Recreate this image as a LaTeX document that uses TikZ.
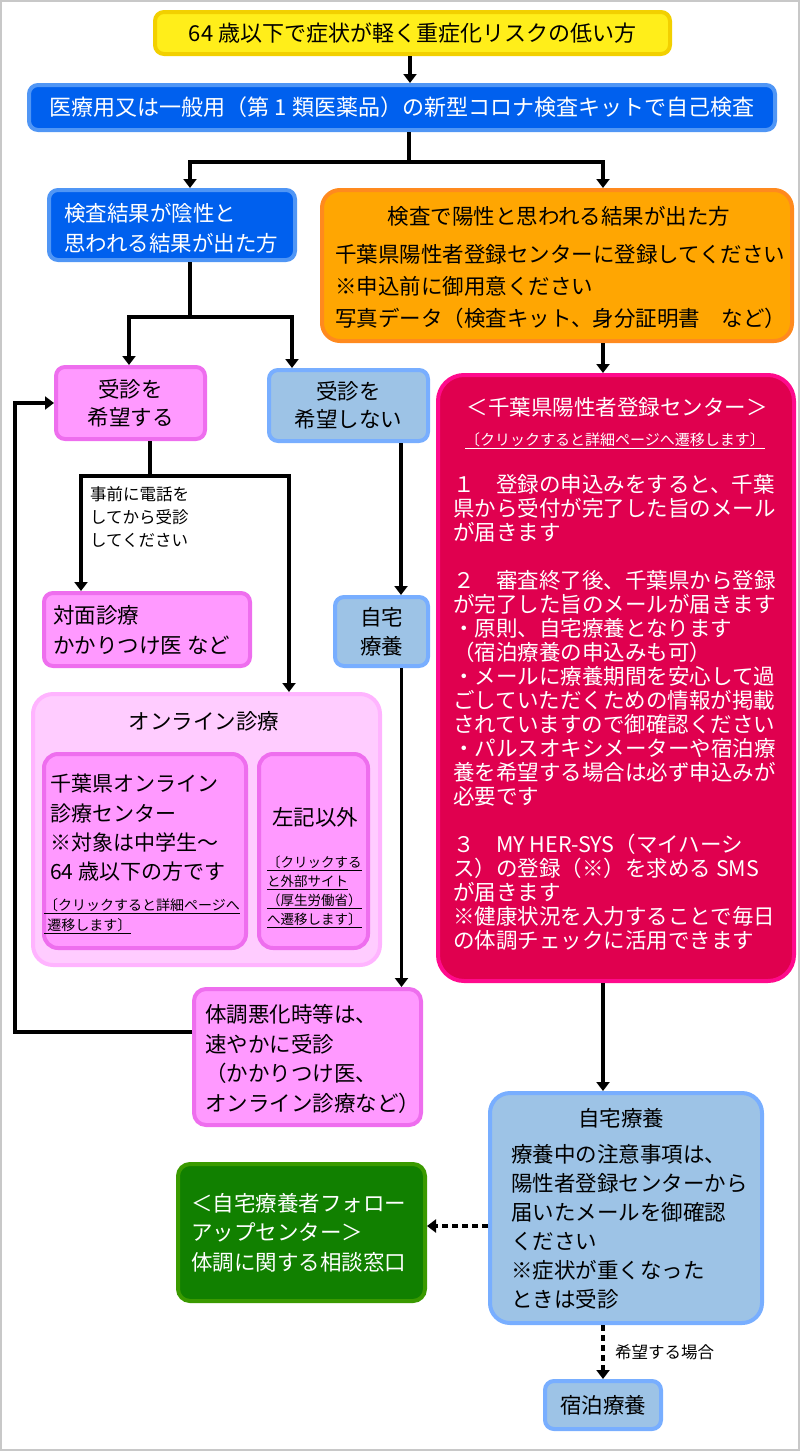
\documentclass[tikz,border=0pt]{standalone}
\usepackage{fontspec}
\setmainfont{Noto Sans CJK JP}
\usetikzlibrary{arrows.meta}
\definecolor{yelF}{HTML}{FFEE1A}
\definecolor{yelB}{HTML}{F2D000}
\definecolor{bluF}{HTML}{0060EE}
\definecolor{bluB}{HTML}{5096F5}
\definecolor{orgF}{HTML}{FFA602}
\definecolor{orgB}{HTML}{FF8A1E}
\definecolor{pnkF}{HTML}{FF99FF}
\definecolor{pnkB}{HTML}{EE6EEE}
\definecolor{lbF}{HTML}{9DC3E6}
\definecolor{lbB}{HTML}{78AEFF}
\definecolor{crmF}{HTML}{E0004F}
\definecolor{crmB}{HTML}{FF0A8C}
\definecolor{olF}{HTML}{FFCCFF}
\definecolor{olB}{HTML}{FFB4FF}
\definecolor{grnF}{HTML}{118000}
\definecolor{grnB}{HTML}{3A9A00}
\definecolor{frameC}{HTML}{C8C8C8}
\tikzset{
  box/.style={line width=4pt, rounded corners=9pt, inner sep=0pt},
  txt/.style={font=\fontsize{21.5}{#1}\selectfont, inner sep=0pt},
  txt/.default=30,
  lnk/.style={font=\fontsize{14}{#1}\selectfont, inner sep=0pt},
  lnk/.default=20,
  lbl/.style={font=\fontsize{16.5}{23}\selectfont, inner sep=0pt},
  plain/.style={line width=3.5pt},
  conn/.style={line width=3.5pt, -{Triangle[length=9pt,width=13pt]}},
  dconn/.style={line width=3.5pt, dash pattern=on 6pt off 4pt, -{Triangle[length=9pt,width=13pt]}},
}
\begin{document}
\begin{tikzpicture}[x=1pt,y=-1pt]
\useasboundingbox (0,0) rectangle (800,1451);
\draw[frameC, line width=2pt] (1,1) rectangle (799,1450);

% boxes
\node[box, fill=yelF, draw=yelB, minimum width=515pt, minimum height=42pt, txt, font=\fontsize{22}{30}\selectfont] (yel) at (412.5,33) {64 歳以下で症状が軽く重症化リスクの低い方};
\node[box, fill=bluF, draw=bluB, minimum width=746pt, minimum height=45pt, txt, font=\fontsize{22}{30}\selectfont, text=white] (kit) at (402,107.5) {医療用又は一般用（第 1 類医薬品）の新型コロナ検査キットで自己検査};

\node[box, fill=bluF, draw=bluB, minimum width=246pt, minimum height=70pt] (neg) at (172,225) {};
\node[txt=30, text=white, align=left, anchor=north west] (negT) at (64,203) {検査結果が陰性と\\思われる結果が出た方};

\node[box, fill=orgF, draw=orgB, minimum width=470pt, minimum height=151pt, rounded corners=18pt] (pos) at (557,265.5) {};
\node[txt] (posH) at (559,216) {検査で陽性と思われる結果が出た方};
\node[txt=32, align=left, anchor=north west] (posT) at (335,244) {千葉県陽性者登録センターに登録してください\\※申込前に御用意ください\\写真データ（検査キット、身分証明書　など）};

\node[box, fill=pnkF, draw=pnkB, minimum width=149pt, minimum height=72pt, txt=28, align=center] (want) at (130.5,403) {受診を\\希望する};
\node[box, fill=lbF, draw=lbB, minimum width=159pt, minimum height=71pt, txt=28, align=center] (nowant) at (348.5,405.5) {受診を\\希望しない};

\node[box, fill=crmF, draw=crmB, minimum width=356pt, minimum height=606pt, rounded corners=26pt] (reg) at (616,678) {};
\node[txt, text=white] (regH) at (617,407) {＜千葉県陽性者登録センター＞};
\node[lnk, font=\fontsize{15}{20}\selectfont, text=white] (regL) at (615,441) {\underline{〔クリックすると詳細ページへ遷移します〕}};
\node[txt=24, text=white, align=left, anchor=north west] (regT) at (453,474) {１　登録の申込みをすると、千葉\\
県から受付が完了した旨のメール\\
が届きます\\[24pt]
２　審査終了後、千葉県から登録\\
が完了した旨のメールが届きます\\
・原則、自宅療養となります\\
（宿泊療養の申込みも可）\\
・メールに療養期間を安心して過\\
ごしていただくための情報が掲載\\
されていますので御確認ください\\
・パルスオキシメーターや宿泊療\\
養を希望する場合は必ず申込みが\\
必要です\\[24pt]
３　MY HER-SYS（マイハーシ\\
ス）の登録（※）を求める SMS\\
が届きます\\
※健康状況を入力することで毎日\\
の体調チェックに活用できます};

\node[box, fill=pnkF, draw=pnkB, minimum width=206pt, minimum height=73pt] (face) at (147,629.5) {};
\node[txt=30, align=left, anchor=north west] (faceT) at (53,605) {対面診療\\かかりつけ医 など};

\node[box, fill=lbF, draw=lbB, minimum width=93pt, minimum height=69pt, txt=29, align=center] (home1) at (381.5,631.5) {自宅\\療養};

\node[box, fill=olF, draw=olB, minimum width=347pt, minimum height=271pt, rounded corners=20pt] (onl) at (206.5,829.5) {};
\node[txt] (onlH) at (204,721) {オンライン診療};
\node[box, fill=pnkF, draw=pnkB, minimum width=202pt, minimum height=194pt, rounded corners=14pt] (och) at (145,851) {};
\node[txt=29.3, font=\fontsize{21}{29.3}\selectfont, align=left, anchor=north west] (ochT) at (50,774) {千葉県オンライン\\診療センター\\※対象は中学生～\\64 歳以下の方です};
\node[lnk, align=left, anchor=north west] (ochL) at (44,898) {\underline{〔クリックすると詳細ページへ}\\\underline{\ 遷移します〕}};
\node[box, fill=pnkF, draw=pnkB, minimum width=109pt, minimum height=194pt, rounded corners=14pt] (oth) at (313.5,851) {};
\node[txt] (othH) at (315,817) {左記以外};
\node[lnk=19, font=\fontsize{13.5}{19}\selectfont, align=left, anchor=north west] (othL) at (267,856) {\underline{〔クリックする}\\\underline{と外部サイト}\\\underline{（厚生労働省）}\\\underline{へ遷移します〕}};

\node[box, fill=pnkF, draw=pnkB, minimum width=227pt, minimum height=136pt, rounded corners=12pt] (worse) at (307.5,1057) {};
\node[txt=29.7, align=left, anchor=north west] (worseT) at (205,1004) {体調悪化時等は、\\速やかに受診\\（かかりつけ医、\\オンライン診療など）};

\node[box, fill=lbF, draw=lbB, minimum width=272pt, minimum height=230pt, rounded corners=20pt] (home2) at (626,1208) {};
\node[txt] (home2H) at (621,1118) {自宅療養};
\node[txt=29, align=left, anchor=north west] (home2T) at (511,1144) {療養中の注意事項は、\\陽性者登録センターから\\届いたメールを御確認\\ください\\※症状が重くなった\\ときは受診};

\node[box, fill=grnF, draw=grnB, minimum width=247pt, minimum height=137pt, rounded corners=12pt] (grn) at (301.5,1232.5) {};
\node[txt=29.5, text=white, align=left, anchor=north west] (grnT) at (191,1193) {＜自宅療養者フォロー\\アップセンター＞\\体調に関する相談窓口};

\node[box, fill=lbF, draw=lbB, minimum width=116pt, minimum height=48pt, txt] (hotel) at (603,1405) {宿泊療養};

% connectors
\coordinate (yelOut) at ([xshift=-2.5pt]yel.south);
\draw[conn] (yelOut) -- (yelOut |- kit.north);

\coordinate (kitOut) at ([xshift=7pt]kit.south);
\coordinate (j1) at ([yshift=-30pt]kitOut);
\coordinate (negIn) at ([xshift=18pt]neg.north);
\coordinate (posIn) at ([xshift=46pt]pos.north);
\draw[plain] (kitOut) -- (j1);
\draw[conn] (j1) -| (negIn);
\draw[conn] (j1) -| (posIn);

\coordinate (negOut) at ([xshift=18pt]neg.south);
\coordinate (j2) at ([yshift=-55pt]negOut);
\coordinate (wantIn) at ([xshift=-1.5pt]want.north);
\coordinate (nowantIn) at ([xshift=-56.5pt]nowant.north);
\draw[plain] (negOut) -- (j2);
\draw[conn] (j2) -| (wantIn);
\draw[conn] (j2) -| (nowantIn);

\coordinate (posOut) at ([xshift=46pt]pos.south);
\draw[conn] (posOut) -- (posOut |- reg.north);

\coordinate (wantOut) at ([xshift=19.5pt]want.south);
\coordinate (j3) at ([yshift=-35pt]wantOut);
\coordinate (faceIn) at ([xshift=-66pt]face.north);
\coordinate (onlIn) at ([xshift=82.5pt]onl.north);
\draw[plain] (wantOut) -- (j3);
\draw[conn] (j3) -| (faceIn);
\draw[conn] (j3) -| (onlIn);
\node[lbl, align=left, anchor=north west] (call) at (90,486) {事前に電話を\\してから受診\\してください};

\coordinate (nowantOut) at ([xshift=52.5pt]nowant.south);
\draw[conn] (nowantOut) -- (nowantOut |- home1.north);
\coordinate (home1Out) at ([xshift=20pt]home1.south);
\draw[conn] (home1Out) -- (home1Out |- worse.north);

\coordinate (worseOut) at ([yshift=25pt]worse.west);
\draw[conn] (worseOut) -- ++(-177,0) |- (want.west);

\coordinate (regOut) at ([xshift=-13pt]reg.south);
\draw[conn] (regOut) -- (regOut |- home2.north);

\coordinate (home2Out) at ([yshift=-18pt]home2.west);
\draw[dconn] (home2Out) -- (home2Out -| grn.east);
\coordinate (home2Down) at ([xshift=-23pt]home2.south);
\draw[dconn] (home2Down) -- (home2Down |- hotel.north);
\node[lbl, anchor=west] (wish) at (615,1352) {希望する場合};
\end{tikzpicture}
\end{document}
